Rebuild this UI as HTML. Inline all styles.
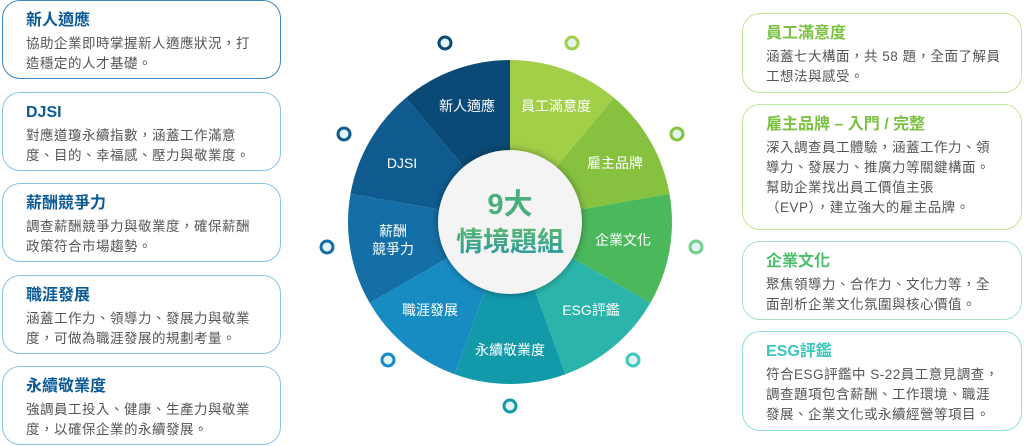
<!DOCTYPE html>
<html><head><meta charset="utf-8"><style>
body{margin:0;width:1024px;height:446px;background:#fff;position:relative;overflow:hidden;font-family:"Liberation Sans","Noto Sans CJK TC",sans-serif}
.b{position:absolute;box-sizing:border-box;border:1.5px solid #86c4ea;border-radius:18px;padding:9px 0 0 23px;color:#555;font-size:13.5px;line-height:20px;letter-spacing:0.5px}
.b h3{margin:0 0 3px;font-size:16px;font-weight:bold;color:#0b5a96;line-height:21px;letter-spacing:0}
.l{left:2px;width:279px;height:79px}
.r{left:742px;width:280px}
.r h3{color:#7cc242}
</style></head><body>
<div class="b l" style="top:0;border-color:#3a86c0"><h3>新人適應</h3>協助企業即時掌握新人適應狀況，打<br>造穩定的人才基礎。</div>
<div class="b l" style="top:92px"><h3>DJSI</h3>對應道瓊永續指數，涵蓋工作滿意<br>度、目的、幸福感、壓力與敬業度。</div>
<div class="b l" style="top:183px"><h3>薪酬競爭力</h3>調查薪酬競爭力與敬業度，確保薪酬<br>政策符合市場趨勢。</div>
<div class="b l" style="top:275px"><h3>職涯發展</h3>涵蓋工作力、領導力、發展力與敬業<br>度，可做為職涯發展的規劃考量。</div>
<div class="b l" style="top:366px"><h3>永續敬業度</h3>強調員工投入、健康、生產力與敬業<br>度，以確保企業的永續發展。</div>

<div class="b r" style="top:13px;height:80px;border-color:#c2e398"><h3>員工滿意度</h3>涵蓋七大構面，共 58 題，全面了解員<br>工想法與感受。</div>
<div class="b r" style="top:104px;height:126px;border-color:#c2e398"><h3>雇主品牌 – 入門 / 完整</h3>深入調查員工體驗，涵蓋工作力、領<br>導力、發展力、推廣力等關鍵構面。<br>幫助企業找出員工價值主張<br>（EVP），建立強大的雇主品牌。</div>
<div class="b r" style="top:241px;height:79px;border-color:#a8e2bf"><h3 style="color:#4cbf6c">企業文化</h3>聚焦領導力、合作力、文化力等，全<br>面剖析企業文化氛圍與核心價值。</div>
<div class="b r" style="top:331px;height:100px;border-color:#8ee0dc"><h3 style="color:#3cc7bd">ESG評鑑</h3>符合ESG評鑑中 S-22員工意見調查，<br>調查題項包含薪酬、工作環境、職涯<br>發展、企業文化或永續經營等項目。</div>

<svg width="1024" height="446" style="position:absolute;left:0;top:0">
<defs><filter id="sh" x="-30%" y="-30%" width="160%" height="160%"><feDropShadow dx="0" dy="0" stdDeviation="4" flood-color="#000" flood-opacity="0.4"/></filter>
<linearGradient id="tg" x1="0" y1="0" x2="0" y2="1"><stop offset="0" stop-color="#5ab96e"/><stop offset="1" stop-color="#2a98a4"/></linearGradient></defs>
<g stroke="none">
<path d="M510 222L510 60A162 162 0 0 1 614.1 97.9Z" fill="#a2cf48"/>
<path d="M510 222L614.1 97.9A162 162 0 0 1 669.5 193.9Z" fill="#86c240"/>
<path d="M510 222L669.5 193.9A162 162 0 0 1 650.3 303Z" fill="#4cb85c"/>
<path d="M510 222L650.3 303A162 162 0 0 1 565.4 374.2Z" fill="#2bb5aa"/>
<path d="M510 222L565.4 374.2A162 162 0 0 1 454.6 374.2Z" fill="#1299aa"/>
<path d="M510 222L454.6 374.2A162 162 0 0 1 369.7 303Z" fill="#178cc2"/>
<path d="M510 222L369.7 303A162 162 0 0 1 350.5 193.9Z" fill="#156fa7"/>
<path d="M510 222L350.5 193.9A162 162 0 0 1 405.9 97.9Z" fill="#0f5b8f"/>
<path d="M510 222L405.9 97.9A162 162 0 0 1 510 60Z" fill="#0b4a76"/>
</g>
<circle cx="510" cy="222" r="72" fill="#f4f4f4" filter="url(#sh)"/>
<g font-family="Liberation Sans,Noto Sans CJK TC,sans-serif" font-size="14" fill="#fff" text-anchor="middle">
<text x="467" y="111">新人適應</text>
<text x="556" y="111">員工滿意度</text>
<text x="615" y="168">雇主品牌</text>
<text x="623" y="245">企業文化</text>
<text x="591" y="315">ESG評鑑</text>
<text x="510" y="355">永續敬業度</text>
<text x="430" y="315">職涯發展</text>
<text x="393" y="236">薪酬</text>
<text x="393" y="254">競爭力</text>
<text x="402" y="168">DJSI</text>
</g>
<text x="510" y="214" text-anchor="middle" font-family="Liberation Sans,Noto Sans CJK TC,sans-serif" font-size="29" font-weight="bold" fill="#4aae7e">9大</text>
<text x="510" y="251" text-anchor="middle" font-family="Liberation Sans,Noto Sans CJK TC,sans-serif" font-size="27" font-weight="bold" fill="url(#tg)">情境題組</text>
<g stroke-width="3" fill="#e4f4f6">
<circle cx="445" cy="43" r="6" stroke="#0b4a76"/>
<circle cx="572" cy="43" r="6" stroke="#a2cf48"/>
<circle cx="344" cy="134" r="6" stroke="#0f5b8f"/>
<circle cx="677" cy="134" r="6" stroke="#86c240"/>
<circle cx="327" cy="247" r="6" stroke="#156fa7"/>
<circle cx="696" cy="247" r="6" stroke="#6fd08a"/>
<circle cx="388" cy="360" r="6" stroke="#178cc2"/>
<circle cx="633" cy="360" r="6" stroke="#3cc7bd"/>
<circle cx="510" cy="406" r="6" stroke="#1299aa"/>
</g>
</svg>
</body></html>
